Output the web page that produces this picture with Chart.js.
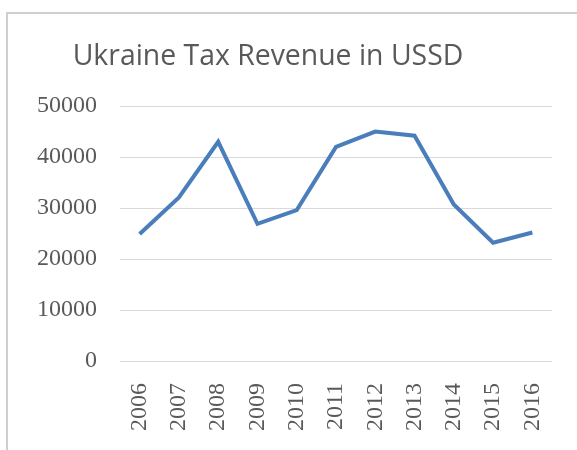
<!DOCTYPE html>
<html>
<head>
<meta charset="utf-8">
<script src="https://cdn.jsdelivr.net/npm/chart.js@4/dist/chart.umd.min.js"></script>
<style>
html,body{margin:0;padding:0;background:#fff;}
#wrap{position:absolute;left:0;top:0;width:577px;height:450px;}
</style>
</head>
<body>
<div id="wrap"><canvas id="c" width="577" height="450"></canvas></div>
<script>
const years = ['2006','2007','2008','2009','2010','2011','2012','2013','2014','2015','2016'];
const taxRevenue = [24900, 32100, 43000, 26900, 29600, 42000, 45000, 44200, 30700, 23200, 25200];
const yTicks = [0, 10000, 20000, 30000, 40000, 50000];
const chartTitle = 'Ukraine Tax Revenue in USSD';

const frame = {
  id: 'frame',
  beforeDraw(chart) {
    const ctx = chart.ctx;
    ctx.save();
    ctx.fillStyle = '#ffffff';
    ctx.fillRect(0, 0, chart.width, chart.height);
    ctx.strokeStyle = '#cfcfcf';
    ctx.lineWidth = 2;
    ctx.beginPath();
    ctx.moveTo(7, chart.height + 5);
    ctx.lineTo(7, 13);
    ctx.lineTo(chart.width + 5, 13);
    ctx.stroke();
    ctx.restore();
  }
};

new Chart(document.getElementById('c'), {
  type: 'line',
  data: {
    labels: years,
    datasets: [{
      data: taxRevenue,
      borderColor: '#4a7ebb',
      borderWidth: 4,
      pointRadius: 0,
      tension: 0,
      fill: false
    }]
  },
  options: {
    responsive: false,
    animation: false,
    devicePixelRatio: 1,
    layout: { padding: { left: -16, right: 25, top: 0, bottom: 0 } },
    plugins: {
      legend: { display: false },
      tooltip: { enabled: false },
      title: {
        display: true,
        text: chartTitle,
        color: '#595959',
        font: { family: 'Open Sans', size: 28.4, weight: 'normal' },
        padding: { top: 40, bottom: 32 }
      }
    },
    scales: {
      x: {
        offset: true,
        grid: { display: false, drawTicks: false },
        border: { display: false },
        afterFit(scale) { scale.height = 89; scale.paddingRight = 0; scale.paddingLeft = 0; },
        ticks: {
          color: '#595959',
          font: { family: 'Liberation Serif', size: 24 },
          minRotation: 90,
          maxRotation: 90,
          padding: 22,
          autoSkip: false
        }
      },
      y: {
        min: 0,
        max: 50000,
        afterBuildTicks(scale) { scale.ticks = yTicks.map(v => ({ value: v })); },
        afterFit(scale) { scale.width = 136; },
        grid: { color: '#d9d9d9', lineWidth: 1, drawTicks: false },
        border: { display: false },
        ticks: {
          color: '#595959',
          font: { family: 'Liberation Serif', size: 24 },
          padding: 23,
          callback: (v) => String(v)
        }
      }
    }
  },
  plugins: [frame]
});
</script>
</body>
</html>
